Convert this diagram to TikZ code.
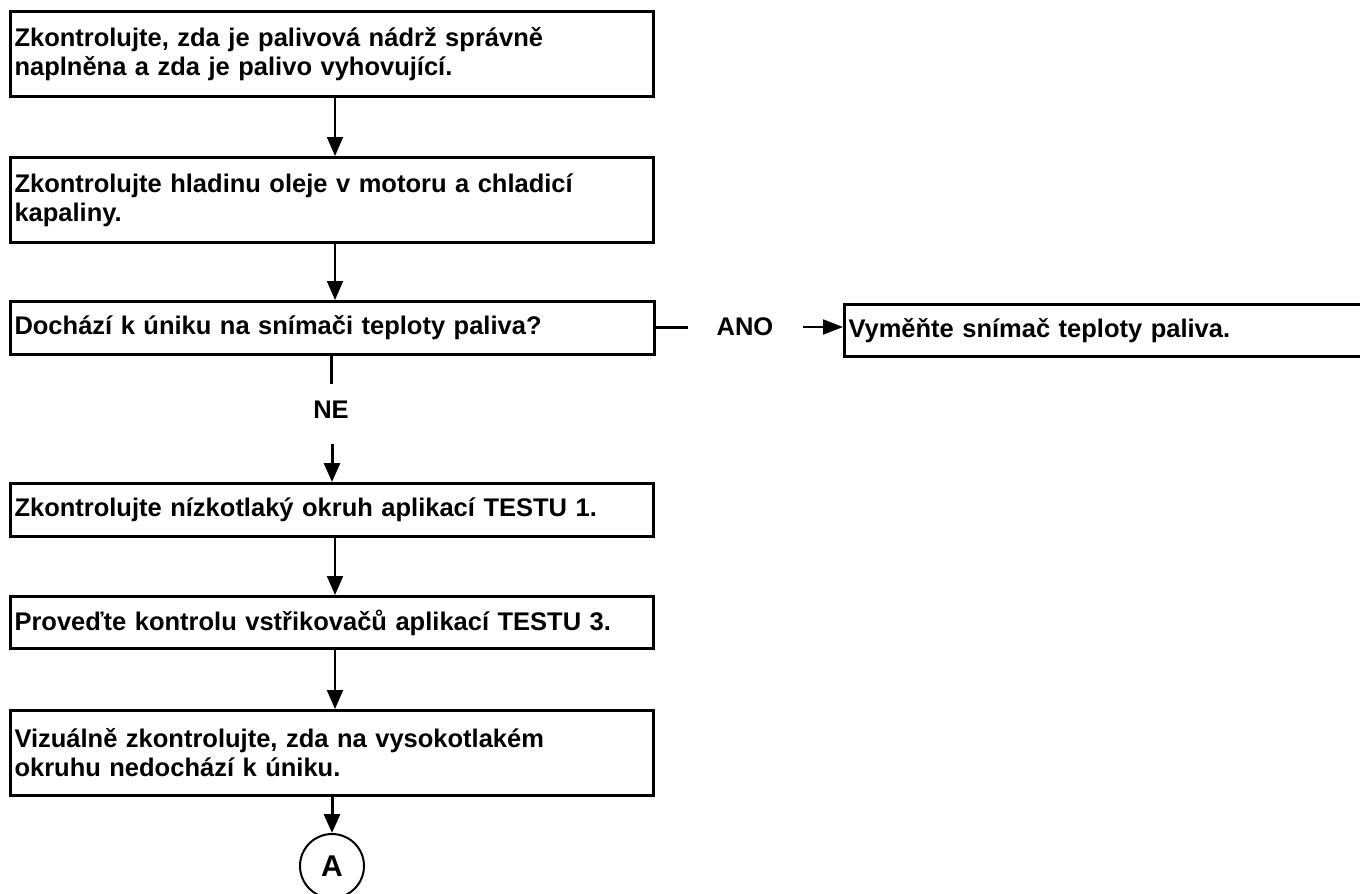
\documentclass[tikz,border=0pt]{standalone}
\usepackage{fontspec}
\setmainfont{Liberation Sans}
\usetikzlibrary{arrows.meta}
\begin{document}
\begin{tikzpicture}[x=1pt,y=-1pt,
  stepbox/.style={draw,line width=3pt,anchor=north west,align=left,
    inner xsep=4pt,font=\fontsize{25.5}{29}\selectfont\bfseries},
  lbl/.style={font=\fontsize{25.5}{29}\selectfont\bfseries,inner sep=0pt},
  arr/.style={line width=2pt,-{Triangle[length=19pt,width=16pt]}},
  arrb/.style={line width=3pt,-{Triangle[length=19pt,width=16pt]}},
  plain/.style={line width=3pt}]
\useasboundingbox (0,0) rectangle (1360,894);
% process boxes
\node[stepbox,minimum width=643pt,minimum height=85pt,text width=635pt] (b1) at (9,10)
  {Zkontrolujte, zda je palivová nádrž správně\\naplněna a zda je palivo vyhovující.};
\node[stepbox,minimum width=643pt,minimum height=85pt,text width=635pt] (b2) at (9,156)
  {Zkontrolujte hladinu oleje v motoru a chladicí\\kapaliny.};
\node[stepbox,minimum width=644pt,minimum height=53pt,text width=636pt] (b3) at (9,300)
  {Dochází k úniku na snímači teploty paliva?};
\node[stepbox,minimum width=540pt,minimum height=52pt,text width=532pt] (b4) at (843,303)
  {Vyměňte snímač teploty paliva.};
\node[stepbox,minimum width=643pt,minimum height=53pt,text width=635pt] (b5) at (9,482)
  {Zkontrolujte nízkotlaký okruh aplikací TESTU 1.};
\node[stepbox,minimum width=643pt,minimum height=52pt,text width=635pt] (b6) at (9,595)
  {Proveďte kontrolu vstřikovačů aplikací TESTU 3.};
\node[stepbox,minimum width=643pt,minimum height=85pt,text width=635pt] (b7) at (9,709)
  {Vizuálně zkontrolujte, zda na vysokotlakém\\okruhu nedochází k úniku.};
% connector A
\node[draw,circle,line width=2pt,minimum size=64pt,inner sep=0pt,
  font=\fontsize{30}{32}\selectfont\bfseries] (ca) at (332,866) {A};
% branch labels
\node[lbl] (ano) at (745,327) {ANO};
\node[lbl] (ne) at (331,410) {NE};
\coordinate (ax) at (335,0);
\coordinate (bx) at (332,0);
\coordinate (anoL) at (688,327);
\coordinate (anoR) at (803,327);
\coordinate (neT) at (331,384);
\coordinate (neB) at (332,444);
% connectors
\draw[arr] (b1.south -| ax) -- (b2.north -| ax);
\draw[arr] (b2.south -| ax) -- (b3.north -| ax);
\draw[plain] (b3.east |- anoL) -- (anoL);
\draw[line width=2pt,-{Triangle[length=20pt,width=15pt]}] (anoR) -- (b4.west |- anoR);
\draw[plain] (b3.south -| neT) -- (neT);
\draw[arrb] (neB) -- (b5.north -| bx);
\draw[arr] (b5.south -| ax) -- (b6.north -| ax);
\draw[arr] (b6.south -| ax) -- (b7.north -| ax);
\draw[arrb] (b7.south -| bx) -- (ca.north);
\end{tikzpicture}
\end{document}
